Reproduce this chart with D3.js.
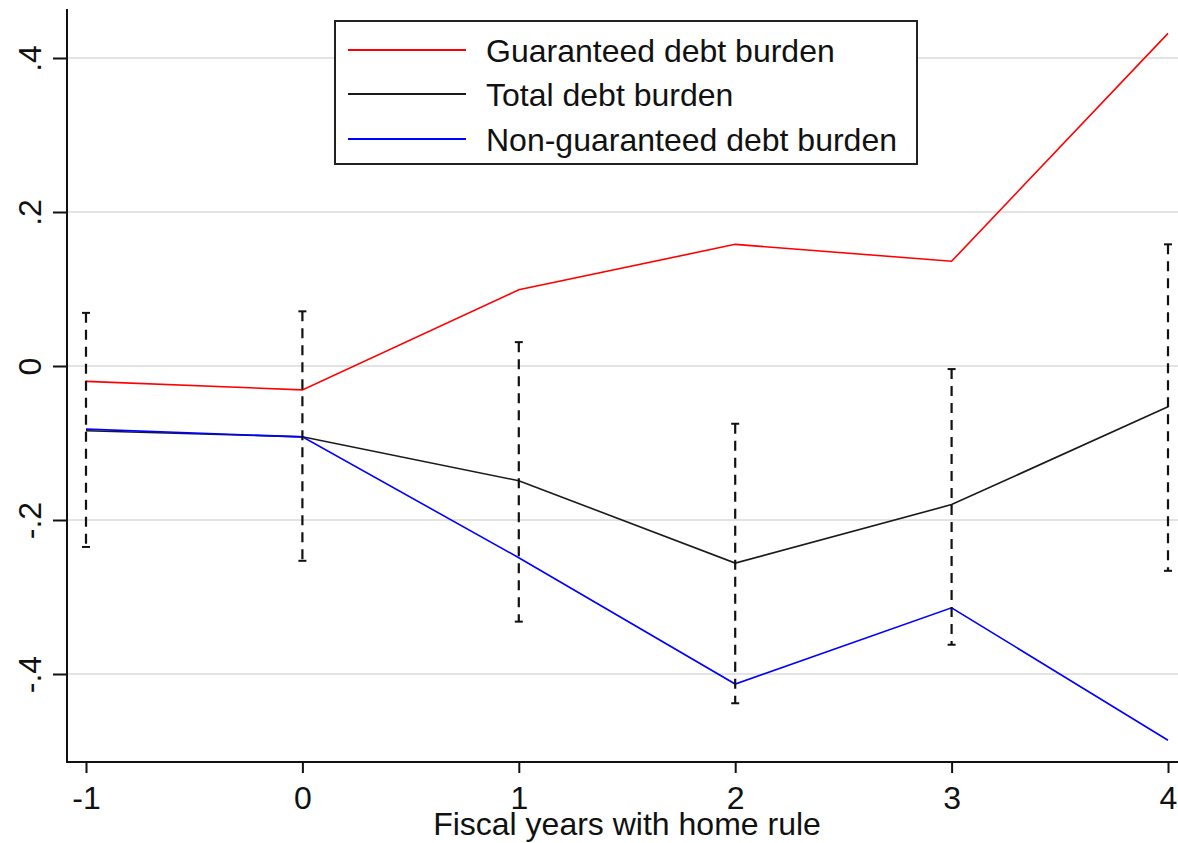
<!DOCTYPE html>
<html>
<head>
<meta charset="utf-8">
<script src="https://cdn.jsdelivr.net/npm/d3@7"></script>
<style>
  html, body { margin: 0; padding: 0; background: #fff; }
  svg { display: block; }
  text { font-family: "Liberation Sans", Arial, sans-serif; }
</style>
</head>
<body>
<svg id="chart" width="1178" height="843"></svg>
<script>
const years = [-1, 0, 1, 2, 3, 4];
const guaranteed = [-0.020, -0.031, 0.099, 0.158, 0.136, 0.432];
const total = [-0.084, -0.092, -0.149, -0.256, -0.180, -0.053];
const nonGuaranteed = [-0.082, -0.092, -0.249, -0.413, -0.314, -0.486];
const ciUpper = [0.069, 0.071, 0.031, -0.075, -0.004, 0.158];
const ciLower = [-0.235, -0.253, -0.332, -0.438, -0.362, -0.266];
const yTicks = [-0.4, -0.2, 0, 0.2, 0.4];
const yTickLabels = ["-.4", "-.2", "0", ".2", ".4"];
const xTickLabels = ["-1", "0", "1", "2", "3", "4"];
const seriesNames = ["Guaranteed debt burden", "Total debt burden", "Non-guaranteed debt burden"];
const seriesColors = ["#ff0000", "#1a1a1a", "#0000ff"];
const xTitle = "Fiscal years with home rule";

const svg = d3.select("#chart");
const x = d3.scaleLinear().domain([-1, 4]).range([86, 1168]);
const y = d3.scaleLinear().domain([-0.4, 0.4]).range([674, 58]);
const axisLeftX = 67, axisBottomY = 762, plotTop = 9, plotRight = 1178;

// gridlines
svg.append("g").selectAll("line").data(yTicks).join("line")
  .attr("x1", axisLeftX).attr("x2", plotRight)
  .attr("y1", d => y(d)).attr("y2", d => y(d))
  .attr("stroke", "#e3e3e3").attr("stroke-width", 2);

// Y axis
const yAxis = d3.axisLeft(y).tickValues(yTicks)
  .tickFormat((d, i) => yTickLabels[i]).tickSize(14).tickPadding(0);
const gy = svg.append("g").attr("transform", `translate(${axisLeftX},0)`).call(yAxis);
gy.select(".domain").remove();
gy.selectAll(".tick line").attr("stroke", "#111").attr("stroke-width", 2);
gy.selectAll(".tick text")
  .attr("x", 0).attr("y", 0).attr("dy", 0)
  .attr("transform", "translate(-26,0) rotate(-90)")
  .attr("text-anchor", "middle")
  .attr("font-size", 32).attr("fill", "#111")
  .style("font-family", "'Liberation Sans', Arial, sans-serif");
svg.append("line").attr("x1", axisLeftX).attr("x2", axisLeftX)
  .attr("y1", plotTop).attr("y2", axisBottomY + 1)
  .attr("stroke", "#111").attr("stroke-width", 2);

// X axis
const xAxis = d3.axisBottom(x).tickValues(years)
  .tickFormat((d, i) => xTickLabels[i]).tickSize(11).tickPadding(2);
const gx = svg.append("g").attr("transform", `translate(0,${axisBottomY})`).call(xAxis);
gx.select(".domain").remove();
gx.selectAll(".tick line").attr("stroke", "#111").attr("stroke-width", 2);
gx.selectAll(".tick text").attr("y", 47).attr("dy", 0)
  .attr("font-size", 32).attr("fill", "#111")
  .style("font-family", "'Liberation Sans', Arial, sans-serif");
svg.append("line").attr("x1", axisLeftX - 1).attr("x2", plotRight)
  .attr("y1", axisBottomY).attr("y2", axisBottomY)
  .attr("stroke", "#111").attr("stroke-width", 2);

svg.append("text").attr("x", 627).attr("y", 835)
  .attr("text-anchor", "middle").attr("font-size", 32).attr("fill", "#111")
  .text(xTitle);

// lines
const line = d3.line().x((d, i) => x(years[i])).y(d => y(d));
[guaranteed, total, nonGuaranteed].forEach((s, k) => {
  svg.append("path").datum(s).attr("d", line)
    .attr("fill", "none").attr("stroke", seriesColors[k]).attr("stroke-width", 1.6);
});

// error bars
const eb = svg.append("g");
years.forEach((yr, i) => {
  const cx = x(yr);
  eb.append("line").attr("x1", cx).attr("x2", cx)
    .attr("y1", y(ciUpper[i])).attr("y2", y(ciLower[i]))
    .attr("stroke", "#111").attr("stroke-width", 2.2).attr("stroke-dasharray", "10,7");
  [ciUpper[i], ciLower[i]].forEach(v => {
    eb.append("line").attr("x1", cx - 4).attr("x2", cx + 4)
      .attr("y1", y(v)).attr("y2", y(v))
      .attr("stroke", "#111").attr("stroke-width", 2);
  });
});

// legend
const lg = svg.append("g");
lg.append("rect").attr("x", 335).attr("y", 21).attr("width", 582).attr("height", 143)
  .attr("fill", "#fff").attr("stroke", "#222").attr("stroke-width", 2);
const rowY = [50, 94, 139];
seriesNames.forEach((n, k) => {
  lg.append("line").attr("x1", 348).attr("x2", 466)
    .attr("y1", rowY[k]).attr("y2", rowY[k])
    .attr("stroke", seriesColors[k]).attr("stroke-width", 2);
  lg.append("text").attr("x", 486).attr("y", rowY[k] + 12)
    .attr("font-size", 32).attr("fill", "#111").text(n);
});
</script>
</body>
</html>
